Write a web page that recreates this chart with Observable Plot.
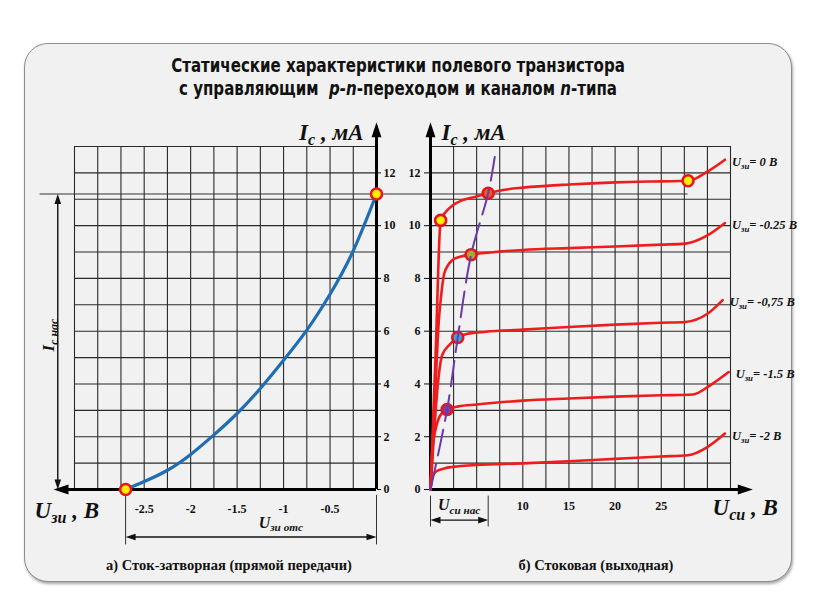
<!DOCTYPE html>
<html><head><meta charset="utf-8">
<script src="https://cdn.jsdelivr.net/npm/d3@7"></script>
<script src="https://cdn.jsdelivr.net/npm/@observablehq/plot@0.6"></script>
<style>
body{margin:0;background:#fff;}
#page{position:relative;width:816px;height:613px;overflow:hidden;background:#fff;}
#panel{position:absolute;left:24px;top:43px;width:766px;height:537px;background:#f1f1f1;border:1.5px solid #8c8c8c;border-radius:24px;box-shadow:1px 2px 3px rgba(0,0,0,0.35);}
#title{position:absolute;left:0;width:796px;top:54px;text-align:center;font:bold 19px "Liberation Sans Narrow","DejaVu Sans Condensed",Arial,sans-serif;line-height:23px;color:#111;transform:scaleX(0.88);transform-origin:398px 0;}
.cap{position:absolute;top:557px;font:bold 14.5px "Liberation Serif","Times New Roman",serif;color:#111;white-space:nowrap;transform:translateX(-50%);}
.chart{position:absolute;left:0;top:0;}
</style></head>
<body>
<div id="page">
  <div id="panel"></div>
  <div id="title">Статические характеристики полевого транзистора<br>с управляющим&nbsp; <i>p-n</i>-переходом и каналом <i>n</i>-типа</div>
  <div class="cap" style="left:229px">а) Сток-затворная (прямой передачи)</div>
  <div class="cap" style="left:596px">б) Стоковая (выходная)</div>
  <div id="left" class="chart"></div>
  <div id="right" class="chart"></div>
</div>
<script>
// ---------- data ----------
// (a) transfer characteristic Ic(Uзи)
const gateVoltage = [-2.7, -2.5, -2.25, -2, -1.75, -1.5, -1.25, -1, -0.75, -0.5, -0.25, 0];
const gateCurrent = [0, 0.3, 0.73, 1.33, 2.07, 2.88, 3.83, 4.9, 6.04, 7.4, 9.05, 11.2];
const cutoffVoltage = -2.7;   // Uзи отс
const satCurrent = 11.2;      // Ic нас
const leftXTicks = [-2.5, -2, -1.5, -1, -0.5];
const yTicks = [0, 2, 4, 6, 8, 10, 12];
const rightXTicks = [10, 15, 20, 25];

// (b) output characteristics Ic(Uси)
const seriesLabels = ["U|зи|= 0 В", "U|зи|= -0.25 В", "U|зи|= -0,75 В", "U|зи|= -1.5 В", "U|зи|= -2 В"];
const uds0  = [0, 0.55, 1.1, 1.6, 2.4, 3.5, 4.9, 6.25, 8, 10, 15, 20, 25, 27.9, 30, 31.9];
const ic0   = [0, 5.1, 10.2, 10.5, 10.77, 10.97, 11.1, 11.23, 11.36, 11.44, 11.56, 11.64, 11.68, 11.7, 12.05, 12.5];
const uds25 = [0, 0.5, 0.9, 1.2, 1.5, 2.4, 3.2, 4.4, 7, 10, 15, 20, 25, 27.6, 30, 31.9];
const ic25  = [0, 3.6, 6.4, 7.5, 8.2, 8.7, 8.82, 8.9, 9.0, 9.08, 9.15, 9.21, 9.28, 9.32, 9.63, 10.1];
const uds75 = [0, 0.4, 0.8, 1.25, 2.1, 2.95, 4, 6, 10, 15, 20, 25, 27.6, 30, 31.65];
const ic75  = [0, 2.2, 4.0, 5.08, 5.5, 5.76, 5.9, 5.98, 6.06, 6.16, 6.25, 6.32, 6.35, 6.66, 7.18];
const uds150 = [0, 0.2, 0.5, 0.9, 1.3, 1.8, 3, 5, 10, 15, 20, 25, 28.4, 30.3, 32.3];
const ic150  = [0, 1.5, 2.2, 2.7, 2.92, 3.03, 3.15, 3.22, 3.37, 3.45, 3.52, 3.57, 3.6, 3.95, 4.45];
const uds200 = [0, 0.2, 0.6, 1.5, 3, 5, 10, 15, 20, 25, 27.9, 30, 31.9];
const ic200  = [0, 0.45, 0.68, 0.8, 0.88, 0.93, 0.99, 1.07, 1.16, 1.25, 1.3, 1.61, 2.12];
// saturation boundary (dashed)
const satUds = [0, 1.8, 2.95, 4.4, 6.25, 6.96];
const satIc  = [0, 3.03, 5.76, 8.9, 11.23, 12.6];
// marked points
const markUds  = [1.1, 27.9, 6.25, 4.4, 2.95, 1.8];
const markIc   = [10.2, 11.7, 11.23, 8.9, 5.76, 3.03];
const markFill = ["#ffee00", "#ffee00", "#e0602a", "#a4a83a", "#2fa8e8", "#7a3fa0"];

// ---------- helpers ----------
const curves = [[uds0, ic0], [uds25, ic25], [uds75, ic75], [uds150, ic150], [uds200, ic200]];
const outRows = curves.flatMap(([xs, ys], k) => xs.map((x, i) => ({x, y: ys[i], s: k})));
const outEnds = curves.map(([xs, ys], k) => ({x: xs[xs.length - 1], y: ys[ys.length - 1], t: seriesLabels[k]}));
const gateRows = gateVoltage.map((x, i) => ({x, y: gateCurrent[i]}));
const satRows = satUds.map((x, i) => ({x, y: satIc[i]}));
const markRows = markUds.map((x, i) => ({x, y: markIc[i], f: markFill[i]}));

// arrowhead symbol: tip at the origin, pointing up
const head = {draw(ctx, size) { const r = Math.sqrt(size / Math.PI); ctx.moveTo(0, 0); ctx.lineTo(r * 0.33, r); ctx.lineTo(-r * 0.33, r); ctx.closePath(); }};

const SERIF = "Liberation Serif, Times New Roman, serif";
const baseStyle = {background: "transparent", overflow: "visible", fontFamily: SERIF, fontWeight: "bold", color: "#111"};
const gridStyle = {stroke: "#2a2a2a", strokeWidth: 1.1};
const lab = {fontFamily: SERIF, fontStyle: "italic", fontWeight: "bold", fill: "#111"};

function subscripts(svg) {
  svg.querySelectorAll("text").forEach(t => {
    const s = t.textContent;
    if (!s.includes("|")) return;
    const fs = parseFloat(getComputedStyle(t).fontSize);
    const parts = s.split("|");
    t.textContent = "";
    let shifted = 0;
    parts.forEach((p, i) => {
      if (!p) return;
      const ts = document.createElementNS("http://www.w3.org/2000/svg", "tspan");
      ts.textContent = p;
      const want = i % 2 === 1 ? fs * 0.24 : 0;
      if (i % 2 === 1) ts.setAttribute("font-size", (fs * 0.7).toFixed(1));
      if (want !== shifted) { ts.setAttribute("dy", (want - shifted).toFixed(1)); shifted = want; }
      t.appendChild(ts);
    });
  });
}

// ---------- (a) transfer characteristic ----------
const left = Plot.plot({
  width: 816, height: 613,
  marginLeft: 74, marginRight: 440, marginTop: 146, marginBottom: 124,
  x: {domain: [-3.25, 0], axis: null},
  y: {domain: [0, 13], axis: null},
  style: baseStyle,
  marks: [
    Plot.ruleX(d3.range(-3.25, 0, 0.25), {y1: 0, y2: 13, ...gridStyle}),
    Plot.ruleY(d3.range(1, 14), {x1: -3.25, x2: 0, ...gridStyle}),
    Plot.ruleY([satCurrent], {x1: -3.62, x2: 0.58, stroke: "#333", strokeWidth: 1}),
    // Ic нас dimension
    Plot.ruleX([-3.43], {y1: 0.3, y2: satCurrent - 0.3, stroke: "#111", strokeWidth: 1.4}),
    Plot.dot([{x: -3.43, y: satCurrent, r: 0}, {x: -3.43, y: 0, r: 180}], {x: "x", y: "y", rotate: "r", symbol: head, r: 10, fill: "#111", stroke: "none"}),
    // Uзи отс dimension
    Plot.ruleX([cutoffVoltage, 0], {y1: -0.22, y2: -2.1, stroke: "#333", strokeWidth: 1}),
    Plot.ruleY([-1.8], {x1: cutoffVoltage + 0.05, x2: -0.05, stroke: "#111", strokeWidth: 1.4}),
    Plot.dot([{x: cutoffVoltage, y: -1.8, r: -90}, {x: 0, y: -1.8, r: 90}], {x: "x", y: "y", rotate: "r", symbol: head, r: 10, fill: "#111", stroke: "none"}),
    // axes
    Plot.ruleY([0], {x1: -3.4, x2: 0, stroke: "#000", strokeWidth: 3}),
    Plot.ruleX([0], {y1: 0, y2: 13.6, stroke: "#000", strokeWidth: 3}),
    Plot.dot([{x: -3.476, y: 0, r: -90}, {x: 0, y: 13.92, r: 0}], {x: "x", y: "y", rotate: "r", symbol: head, r: 15, fill: "#000", stroke: "none"}),
    Plot.axisY(yTicks, {anchor: "right", tickSize: 4, tickPadding: 3, fontSize: 12, tickFormat: d => String(d), label: null}),
    Plot.axisX(leftXTicks, {anchor: "bottom", tickSize: 0, tickPadding: 15, fontSize: 12, tickFormat: d => String(d), label: null}),
    // curve
    Plot.line(gateRows, {x: "x", y: "y", curve: "natural", stroke: "#1f6db5", strokeWidth: 3.2}),
    Plot.dot([gateRows[0], gateRows[gateRows.length - 1]], {x: "x", y: "y", r: 5.5, fill: "#ffee00", stroke: "#e8141c", strokeWidth: 2.6}),
    // labels
    Plot.text([{x: 0, y: 13.53, t: "I|c| , мА"}], {x: "x", y: "y", text: "t", dx: -13, textAnchor: "end", fontSize: 23, ...lab}),
    Plot.text([{x: -3.68, y: -0.8, t: "U|зи| , В"}], {x: "x", y: "y", text: "t", textAnchor: "start", fontSize: 23, ...lab}),
    Plot.text([{x: -1.03, y: -1.25, t: "U|зи отс"}], {x: "x", y: "y", text: "t", fontSize: 16, ...lab}),
    Plot.text([{x: -3.53, y: 5.85, t: "I|с нас"}], {x: "x", y: "y", text: "t", rotate: -90, fontSize: 17, ...lab})
  ]
});
document.getElementById("left").appendChild(left);
subscripts(left);

// ---------- (b) output characteristics ----------
const right = Plot.plot({
  width: 816, height: 613,
  marginLeft: 430, marginRight: 86, marginTop: 146, marginBottom: 124,
  x: {domain: [0, 32.5], axis: null},
  y: {domain: [0, 13], axis: null},
  style: baseStyle,
  marks: [
    Plot.ruleX(d3.range(2.5, 33, 2.5), {y1: 0, y2: 13, ...gridStyle}),
    Plot.ruleY(d3.range(1, 14), {x1: 0, x2: 32.5, ...gridStyle}),
    Plot.ruleY([satCurrent], {x1: 0, x2: 27.9, stroke: "#333", strokeWidth: 1}),
    // Uси нас dimension
    Plot.ruleX([0, 6.25], {y1: -0.25, y2: -1.42, stroke: "#333", strokeWidth: 1}),
    Plot.ruleY([-1.16], {x1: 0.3, x2: 5.95, stroke: "#111", strokeWidth: 1.4}),
    Plot.dot([{x: 0, y: -1.16, r: -90}, {x: 6.25, y: -1.16, r: 90}], {x: "x", y: "y", rotate: "r", symbol: head, r: 10, fill: "#111", stroke: "none"}),
    // axes
    Plot.ruleY([0], {x1: 0, x2: 34.5, stroke: "#000", strokeWidth: 3}),
    Plot.ruleX([0], {y1: 0, y2: 13.6, stroke: "#000", strokeWidth: 3}),
    Plot.dot([{x: 34.92, y: 0, r: 90}, {x: 0, y: 13.92, r: 0}], {x: "x", y: "y", rotate: "r", symbol: head, r: 15, fill: "#000", stroke: "none"}),
    Plot.axisY(yTicks, {anchor: "left", tickSize: 6, tickPadding: 4, fontSize: 12, tickFormat: d => String(d), label: null}),
    Plot.axisX(rightXTicks, {anchor: "bottom", tickSize: 0, tickPadding: 12, fontSize: 12, tickFormat: d => String(d), label: null}),
    // curves
    Plot.line(outRows, {x: "x", y: "y", z: "s", curve: "monotone-x", stroke: "#ee1c1c", strokeWidth: 2.6}),
    Plot.dot(markRows, {x: "x", y: "y", r: 5.5, fill: "f", stroke: "#e8141c", strokeWidth: 2.6}),
    Plot.line(satRows, {x: "x", y: "y", curve: "catmull-rom", stroke: "#6a3aa8", strokeWidth: 2, strokeDasharray: "26,9"}),
    Plot.text(outEnds, {x: "x", y: "y", text: "t", dx: 7, dy: 2, textAnchor: "start", fontSize: 12.5, ...lab}),
    // labels
    Plot.text([{x: 0, y: 13.53, t: "I|c| , мА"}], {x: "x", y: "y", text: "t", dx: 11, textAnchor: "start", fontSize: 23, ...lab}),
    Plot.text([{x: 30.55, y: -0.68, t: "U|си| , В"}], {x: "x", y: "y", text: "t", textAnchor: "start", fontSize: 23, ...lab}),
    Plot.text([{x: 3.1, y: -0.6, t: "U|си нас"}], {x: "x", y: "y", text: "t", fontSize: 16, ...lab})
  ]
});
document.getElementById("right").appendChild(right);
subscripts(right);
</script>
</body></html>
